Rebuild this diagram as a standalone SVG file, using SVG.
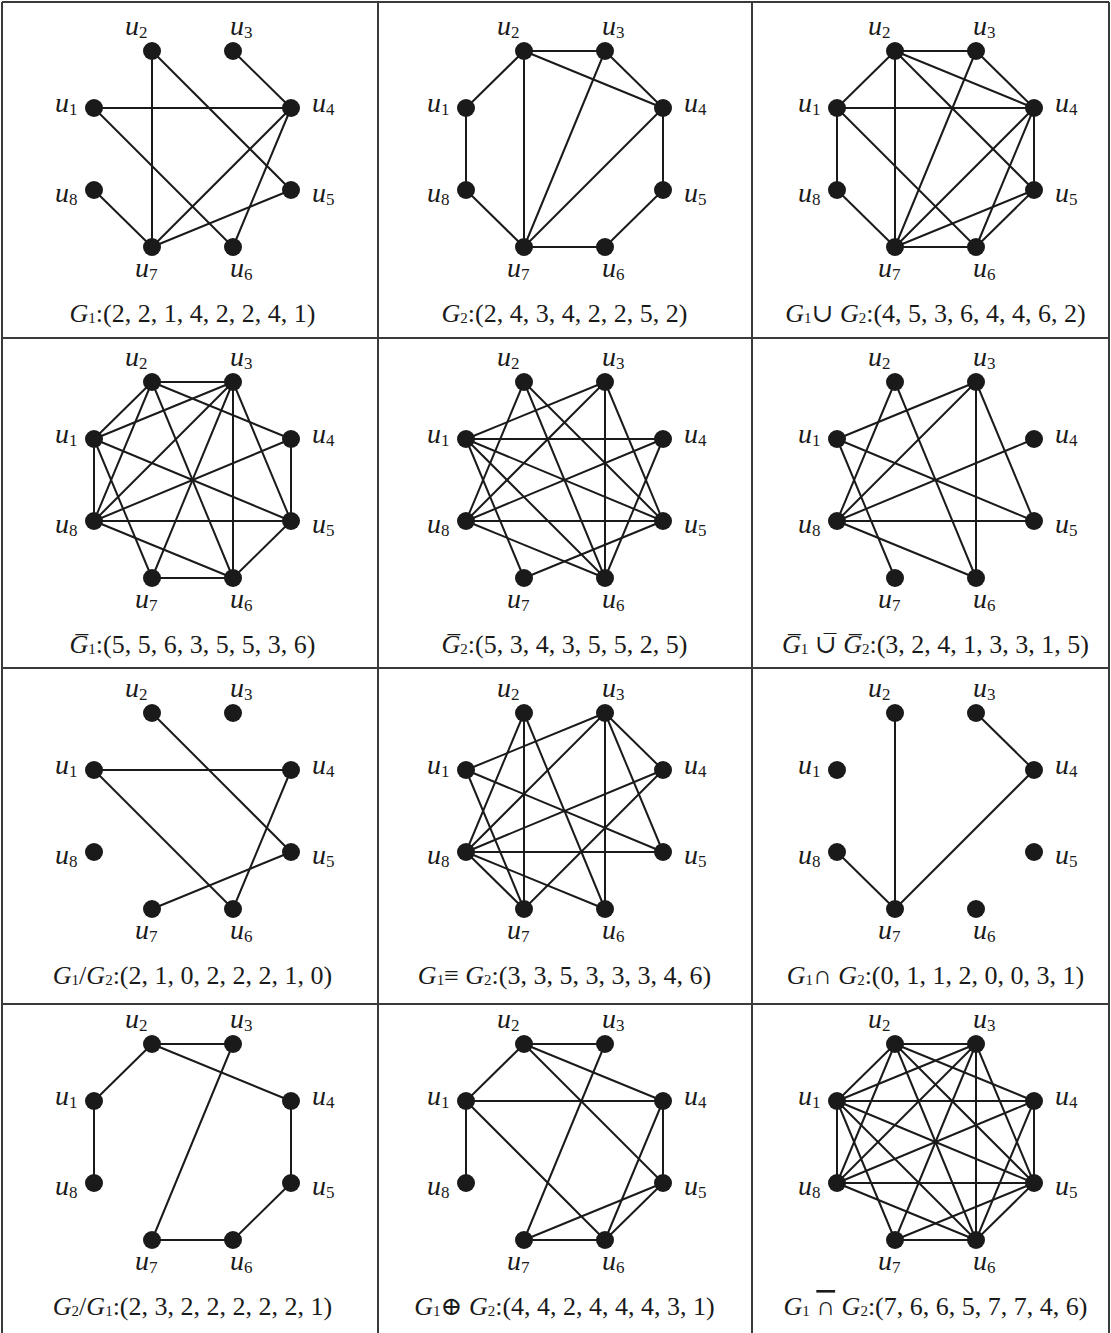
<svg xmlns="http://www.w3.org/2000/svg" width="1111" height="1333" viewBox="0 0 1111 1333">
<style>
.bg{fill:#fff}
.grid line{stroke:#3a3a3a;stroke-width:2}
.edges line{stroke:#1a1a1a;stroke-width:2}
.nd circle{fill:#1a1a1a}
.nd text{font-family:"Liberation Serif","DejaVu Serif",serif;font-size:28px;font-style:italic;fill:#1a1a1a}
.nd tspan{font-style:normal;font-size:17px}
.cap{font-family:"Liberation Serif","DejaVu Serif",serif;font-size:26px;fill:#1a1a1a;text-anchor:middle}
.cap .g{font-style:italic}
.cap .s{font-size:15px}
.cap .ov{text-decoration:overline}
</style>
<rect class="bg" x="0" y="0" width="1111" height="1333"/>
<g id="grid" class="grid">
<line x1="2" y1="2" x2="1109" y2="2"/>
<line x1="2" y1="338" x2="1109" y2="338"/>
<line x1="2" y1="668" x2="1109" y2="668"/>
<line x1="2" y1="1004" x2="1109" y2="1004"/>
<line x1="2" y1="2" x2="2" y2="1333"/>
<line x1="378" y1="2" x2="378" y2="1333"/>
<line x1="752" y1="2" x2="752" y2="1333"/>
<line x1="1109" y1="2" x2="1109" y2="1333"/>
</g>

<!-- Panel 1: G1 -->
<g id="panel1" transform="translate(0,0)">
<g id="p1-edges" class="edges">
<line x1="152" y1="51" x2="152" y2="247"/><line x1="152" y1="51" x2="291" y2="190"/><line x1="233" y1="51" x2="291" y2="108"/><line x1="94" y1="108" x2="291" y2="108"/><line x1="94" y1="108" x2="233" y2="247"/><line x1="291" y1="108" x2="152" y2="247"/><line x1="291" y1="108" x2="233" y2="247"/><line x1="94" y1="190" x2="152" y2="247"/><line x1="152" y1="247" x2="291" y2="190"/>
</g>
<g id="p1-u1" class="nd"><circle cx="94" cy="108" r="9"/><text x="55" y="112">u<tspan dy="3">1</tspan></text></g>
<g id="p1-u2" class="nd"><circle cx="152" cy="51" r="9"/><text x="125" y="35">u<tspan dy="3">2</tspan></text></g>
<g id="p1-u3" class="nd"><circle cx="233" cy="51" r="9"/><text x="230" y="35">u<tspan dy="3">3</tspan></text></g>
<g id="p1-u4" class="nd"><circle cx="291" cy="108" r="9"/><text x="312" y="112">u<tspan dy="3">4</tspan></text></g>
<g id="p1-u5" class="nd"><circle cx="291" cy="190" r="9"/><text x="312" y="202">u<tspan dy="3">5</tspan></text></g>
<g id="p1-u6" class="nd"><circle cx="233" cy="247" r="9"/><text x="230" y="277">u<tspan dy="3">6</tspan></text></g>
<g id="p1-u7" class="nd"><circle cx="152" cy="247" r="9"/><text x="135" y="277">u<tspan dy="3">7</tspan></text></g>
<g id="p1-u8" class="nd"><circle cx="94" cy="190" r="9"/><text x="55" y="202">u<tspan dy="3">8</tspan></text></g>
<text id="p1-cap" class="cap" x="192.5" y="322"><tspan class="g">G</tspan><tspan class="s" dy="1">1</tspan><tspan dy="-1">:(2, 2, 1, 4, 2, 2, 4, 1)</tspan></text>
</g>

<!-- Panel 2: G2 -->
<g id="panel2" transform="translate(372,0)">
<g id="p2-edges" class="edges">
<line x1="94" y1="108" x2="152" y2="51"/><line x1="94" y1="108" x2="94" y2="190"/><line x1="152" y1="51" x2="233" y2="51"/><line x1="152" y1="51" x2="291" y2="108"/><line x1="291" y1="108" x2="291" y2="190"/><line x1="291" y1="190" x2="233" y2="247"/><line x1="233" y1="247" x2="152" y2="247"/><line x1="152" y1="247" x2="233" y2="51"/><line x1="152" y1="51" x2="152" y2="247"/><line x1="233" y1="51" x2="291" y2="108"/><line x1="291" y1="108" x2="152" y2="247"/><line x1="94" y1="190" x2="152" y2="247"/>
</g>
<g id="p2-u1" class="nd"><circle cx="94" cy="108" r="9"/><text x="55" y="112">u<tspan dy="3">1</tspan></text></g>
<g id="p2-u2" class="nd"><circle cx="152" cy="51" r="9"/><text x="125" y="35">u<tspan dy="3">2</tspan></text></g>
<g id="p2-u3" class="nd"><circle cx="233" cy="51" r="9"/><text x="230" y="35">u<tspan dy="3">3</tspan></text></g>
<g id="p2-u4" class="nd"><circle cx="291" cy="108" r="9"/><text x="312" y="112">u<tspan dy="3">4</tspan></text></g>
<g id="p2-u5" class="nd"><circle cx="291" cy="190" r="9"/><text x="312" y="202">u<tspan dy="3">5</tspan></text></g>
<g id="p2-u6" class="nd"><circle cx="233" cy="247" r="9"/><text x="230" y="277">u<tspan dy="3">6</tspan></text></g>
<g id="p2-u7" class="nd"><circle cx="152" cy="247" r="9"/><text x="135" y="277">u<tspan dy="3">7</tspan></text></g>
<g id="p2-u8" class="nd"><circle cx="94" cy="190" r="9"/><text x="55" y="202">u<tspan dy="3">8</tspan></text></g>
<text id="p2-cap" class="cap" x="192.5" y="322"><tspan class="g">G</tspan><tspan class="s" dy="1">2</tspan><tspan dy="-1">:(2, 4, 3, 4, 2, 2, 5, 2)</tspan></text>
</g>

<!-- Panel 3: G1 union G2 -->
<g id="panel3" transform="translate(743,0)">
<g id="p3-edges" class="edges">
<line x1="152" y1="51" x2="152" y2="247"/><line x1="152" y1="51" x2="291" y2="190"/><line x1="233" y1="51" x2="291" y2="108"/><line x1="94" y1="108" x2="291" y2="108"/><line x1="94" y1="108" x2="233" y2="247"/><line x1="291" y1="108" x2="152" y2="247"/><line x1="291" y1="108" x2="233" y2="247"/><line x1="94" y1="190" x2="152" y2="247"/><line x1="152" y1="247" x2="291" y2="190"/>
<line x1="94" y1="108" x2="152" y2="51"/><line x1="94" y1="108" x2="94" y2="190"/><line x1="152" y1="51" x2="233" y2="51"/><line x1="152" y1="51" x2="291" y2="108"/><line x1="291" y1="108" x2="291" y2="190"/><line x1="291" y1="190" x2="233" y2="247"/><line x1="233" y1="247" x2="152" y2="247"/><line x1="152" y1="247" x2="233" y2="51"/>
</g>
<g id="p3-u1" class="nd"><circle cx="94" cy="108" r="9"/><text x="55" y="112">u<tspan dy="3">1</tspan></text></g>
<g id="p3-u2" class="nd"><circle cx="152" cy="51" r="9"/><text x="125" y="35">u<tspan dy="3">2</tspan></text></g>
<g id="p3-u3" class="nd"><circle cx="233" cy="51" r="9"/><text x="230" y="35">u<tspan dy="3">3</tspan></text></g>
<g id="p3-u4" class="nd"><circle cx="291" cy="108" r="9"/><text x="312" y="112">u<tspan dy="3">4</tspan></text></g>
<g id="p3-u5" class="nd"><circle cx="291" cy="190" r="9"/><text x="312" y="202">u<tspan dy="3">5</tspan></text></g>
<g id="p3-u6" class="nd"><circle cx="233" cy="247" r="9"/><text x="230" y="277">u<tspan dy="3">6</tspan></text></g>
<g id="p3-u7" class="nd"><circle cx="152" cy="247" r="9"/><text x="135" y="277">u<tspan dy="3">7</tspan></text></g>
<g id="p3-u8" class="nd"><circle cx="94" cy="190" r="9"/><text x="55" y="202">u<tspan dy="3">8</tspan></text></g>
<text id="p3-cap" class="cap" x="192.5" y="322"><tspan class="g">G</tspan><tspan class="s" dy="1">1</tspan><tspan dy="-1">∪ </tspan><tspan class="g">G</tspan><tspan class="s" dy="1">2</tspan><tspan dy="-1">:(4, 5, 3, 6, 4, 4, 6, 2)</tspan></text>
</g>

<!-- Panel 4: complement G1 -->
<g id="panel4" transform="translate(0,331)">
<g id="p4-edges" class="edges">
<line x1="94" y1="108" x2="152" y2="51"/><line x1="94" y1="108" x2="233" y2="51"/><line x1="94" y1="108" x2="291" y2="190"/><line x1="94" y1="108" x2="152" y2="247"/><line x1="94" y1="108" x2="94" y2="190"/>
<line x1="152" y1="51" x2="233" y2="51"/><line x1="152" y1="51" x2="291" y2="108"/><line x1="152" y1="51" x2="233" y2="247"/><line x1="152" y1="51" x2="94" y2="190"/>
<line x1="233" y1="51" x2="291" y2="190"/><line x1="233" y1="51" x2="233" y2="247"/><line x1="233" y1="51" x2="152" y2="247"/><line x1="233" y1="51" x2="94" y2="190"/>
<line x1="291" y1="108" x2="291" y2="190"/><line x1="291" y1="108" x2="94" y2="190"/>
<line x1="291" y1="190" x2="233" y2="247"/><line x1="291" y1="190" x2="94" y2="190"/>
<line x1="233" y1="247" x2="152" y2="247"/><line x1="233" y1="247" x2="94" y2="190"/>
</g>
<g id="p4-u1" class="nd"><circle cx="94" cy="108" r="9"/><text x="55" y="112">u<tspan dy="3">1</tspan></text></g>
<g id="p4-u2" class="nd"><circle cx="152" cy="51" r="9"/><text x="125" y="35">u<tspan dy="3">2</tspan></text></g>
<g id="p4-u3" class="nd"><circle cx="233" cy="51" r="9"/><text x="230" y="35">u<tspan dy="3">3</tspan></text></g>
<g id="p4-u4" class="nd"><circle cx="291" cy="108" r="9"/><text x="312" y="112">u<tspan dy="3">4</tspan></text></g>
<g id="p4-u5" class="nd"><circle cx="291" cy="190" r="9"/><text x="312" y="202">u<tspan dy="3">5</tspan></text></g>
<g id="p4-u6" class="nd"><circle cx="233" cy="247" r="9"/><text x="230" y="277">u<tspan dy="3">6</tspan></text></g>
<g id="p4-u7" class="nd"><circle cx="152" cy="247" r="9"/><text x="135" y="277">u<tspan dy="3">7</tspan></text></g>
<g id="p4-u8" class="nd"><circle cx="94" cy="190" r="9"/><text x="55" y="202">u<tspan dy="3">8</tspan></text></g>
<text id="p4-cap" class="cap" x="192.5" y="322"><tspan class="g">G̅</tspan><tspan class="s" dy="1">1</tspan><tspan dy="-1">:(5, 5, 6, 3, 5, 5, 3, 6)</tspan></text>
</g>

<!-- Panel 5: complement G2 -->
<g id="panel5" transform="translate(372,331)">
<g id="p5-edges" class="edges">
<line x1="94" y1="108" x2="233" y2="51"/><line x1="94" y1="108" x2="291" y2="108"/><line x1="94" y1="108" x2="291" y2="190"/><line x1="94" y1="108" x2="233" y2="247"/><line x1="94" y1="108" x2="152" y2="247"/>
<line x1="152" y1="51" x2="291" y2="190"/><line x1="152" y1="51" x2="233" y2="247"/><line x1="152" y1="51" x2="94" y2="190"/>
<line x1="233" y1="51" x2="291" y2="190"/><line x1="233" y1="51" x2="233" y2="247"/><line x1="233" y1="51" x2="94" y2="190"/>
<line x1="291" y1="108" x2="233" y2="247"/><line x1="291" y1="108" x2="94" y2="190"/>
<line x1="291" y1="190" x2="152" y2="247"/><line x1="291" y1="190" x2="94" y2="190"/>
<line x1="233" y1="247" x2="94" y2="190"/>
</g>
<g id="p5-u1" class="nd"><circle cx="94" cy="108" r="9"/><text x="55" y="112">u<tspan dy="3">1</tspan></text></g>
<g id="p5-u2" class="nd"><circle cx="152" cy="51" r="9"/><text x="125" y="35">u<tspan dy="3">2</tspan></text></g>
<g id="p5-u3" class="nd"><circle cx="233" cy="51" r="9"/><text x="230" y="35">u<tspan dy="3">3</tspan></text></g>
<g id="p5-u4" class="nd"><circle cx="291" cy="108" r="9"/><text x="312" y="112">u<tspan dy="3">4</tspan></text></g>
<g id="p5-u5" class="nd"><circle cx="291" cy="190" r="9"/><text x="312" y="202">u<tspan dy="3">5</tspan></text></g>
<g id="p5-u6" class="nd"><circle cx="233" cy="247" r="9"/><text x="230" y="277">u<tspan dy="3">6</tspan></text></g>
<g id="p5-u7" class="nd"><circle cx="152" cy="247" r="9"/><text x="135" y="277">u<tspan dy="3">7</tspan></text></g>
<g id="p5-u8" class="nd"><circle cx="94" cy="190" r="9"/><text x="55" y="202">u<tspan dy="3">8</tspan></text></g>
<text id="p5-cap" class="cap" x="192.5" y="322"><tspan class="g">G̅</tspan><tspan class="s" dy="1">2</tspan><tspan dy="-1">:(5, 3, 4, 3, 5, 5, 2, 5)</tspan></text>
</g>

<!-- Panel 6: complement of union -->
<g id="panel6" transform="translate(743,331)">
<g id="p6-edges" class="edges">
<line x1="94" y1="108" x2="233" y2="51"/><line x1="94" y1="108" x2="291" y2="190"/><line x1="94" y1="108" x2="152" y2="247"/>
<line x1="152" y1="51" x2="233" y2="247"/><line x1="152" y1="51" x2="94" y2="190"/>
<line x1="233" y1="51" x2="291" y2="190"/><line x1="233" y1="51" x2="233" y2="247"/><line x1="233" y1="51" x2="94" y2="190"/>
<line x1="291" y1="108" x2="94" y2="190"/>
<line x1="291" y1="190" x2="94" y2="190"/>
<line x1="233" y1="247" x2="94" y2="190"/>
</g>
<g id="p6-u1" class="nd"><circle cx="94" cy="108" r="9"/><text x="55" y="112">u<tspan dy="3">1</tspan></text></g>
<g id="p6-u2" class="nd"><circle cx="152" cy="51" r="9"/><text x="125" y="35">u<tspan dy="3">2</tspan></text></g>
<g id="p6-u3" class="nd"><circle cx="233" cy="51" r="9"/><text x="230" y="35">u<tspan dy="3">3</tspan></text></g>
<g id="p6-u4" class="nd"><circle cx="291" cy="108" r="9"/><text x="312" y="112">u<tspan dy="3">4</tspan></text></g>
<g id="p6-u5" class="nd"><circle cx="291" cy="190" r="9"/><text x="312" y="202">u<tspan dy="3">5</tspan></text></g>
<g id="p6-u6" class="nd"><circle cx="233" cy="247" r="9"/><text x="230" y="277">u<tspan dy="3">6</tspan></text></g>
<g id="p6-u7" class="nd"><circle cx="152" cy="247" r="9"/><text x="135" y="277">u<tspan dy="3">7</tspan></text></g>
<g id="p6-u8" class="nd"><circle cx="94" cy="190" r="9"/><text x="55" y="202">u<tspan dy="3">8</tspan></text></g>
<text id="p6-cap" class="cap" x="192.5" y="322"><tspan class="g">G̅</tspan><tspan class="s" dy="1">1</tspan><tspan dy="-1"> ∪̅ </tspan><tspan class="g">G̅</tspan><tspan class="s" dy="1">2</tspan><tspan dy="-1">:(3, 2, 4, 1, 3, 3, 1, 5)</tspan></text>
</g>

<!-- Panel 7: G1/G2 -->
<g id="panel7" transform="translate(0,662)">
<g id="p7-edges" class="edges">
<line x1="152" y1="51" x2="291" y2="190"/><line x1="94" y1="108" x2="291" y2="108"/><line x1="94" y1="108" x2="233" y2="247"/><line x1="291" y1="108" x2="233" y2="247"/><line x1="152" y1="247" x2="291" y2="190"/>
</g>
<g id="p7-u1" class="nd"><circle cx="94" cy="108" r="9"/><text x="55" y="112">u<tspan dy="3">1</tspan></text></g>
<g id="p7-u2" class="nd"><circle cx="152" cy="51" r="9"/><text x="125" y="35">u<tspan dy="3">2</tspan></text></g>
<g id="p7-u3" class="nd"><circle cx="233" cy="51" r="9"/><text x="230" y="35">u<tspan dy="3">3</tspan></text></g>
<g id="p7-u4" class="nd"><circle cx="291" cy="108" r="9"/><text x="312" y="112">u<tspan dy="3">4</tspan></text></g>
<g id="p7-u5" class="nd"><circle cx="291" cy="190" r="9"/><text x="312" y="202">u<tspan dy="3">5</tspan></text></g>
<g id="p7-u6" class="nd"><circle cx="233" cy="247" r="9"/><text x="230" y="277">u<tspan dy="3">6</tspan></text></g>
<g id="p7-u7" class="nd"><circle cx="152" cy="247" r="9"/><text x="135" y="277">u<tspan dy="3">7</tspan></text></g>
<g id="p7-u8" class="nd"><circle cx="94" cy="190" r="9"/><text x="55" y="202">u<tspan dy="3">8</tspan></text></g>
<text id="p7-cap" class="cap" x="192.5" y="322"><tspan class="g">G</tspan><tspan class="s" dy="1">1</tspan><tspan dy="-1">/</tspan><tspan class="g">G</tspan><tspan class="s" dy="1">2</tspan><tspan dy="-1">:(2, 1, 0, 2, 2, 2, 1, 0)</tspan></text>
</g>

<!-- Panel 8: G1 equiv G2 -->
<g id="panel8" transform="translate(372,662)">
<g id="p8-edges" class="edges">
<line x1="94" y1="108" x2="233" y2="51"/><line x1="94" y1="108" x2="291" y2="190"/><line x1="94" y1="108" x2="152" y2="247"/>
<line x1="152" y1="51" x2="233" y2="247"/><line x1="152" y1="51" x2="152" y2="247"/><line x1="152" y1="51" x2="94" y2="190"/>
<line x1="233" y1="51" x2="291" y2="108"/><line x1="233" y1="51" x2="291" y2="190"/><line x1="233" y1="51" x2="233" y2="247"/><line x1="233" y1="51" x2="94" y2="190"/>
<line x1="291" y1="108" x2="152" y2="247"/><line x1="291" y1="108" x2="94" y2="190"/>
<line x1="291" y1="190" x2="94" y2="190"/>
<line x1="233" y1="247" x2="94" y2="190"/>
<line x1="152" y1="247" x2="94" y2="190"/>
</g>
<g id="p8-u1" class="nd"><circle cx="94" cy="108" r="9"/><text x="55" y="112">u<tspan dy="3">1</tspan></text></g>
<g id="p8-u2" class="nd"><circle cx="152" cy="51" r="9"/><text x="125" y="35">u<tspan dy="3">2</tspan></text></g>
<g id="p8-u3" class="nd"><circle cx="233" cy="51" r="9"/><text x="230" y="35">u<tspan dy="3">3</tspan></text></g>
<g id="p8-u4" class="nd"><circle cx="291" cy="108" r="9"/><text x="312" y="112">u<tspan dy="3">4</tspan></text></g>
<g id="p8-u5" class="nd"><circle cx="291" cy="190" r="9"/><text x="312" y="202">u<tspan dy="3">5</tspan></text></g>
<g id="p8-u6" class="nd"><circle cx="233" cy="247" r="9"/><text x="230" y="277">u<tspan dy="3">6</tspan></text></g>
<g id="p8-u7" class="nd"><circle cx="152" cy="247" r="9"/><text x="135" y="277">u<tspan dy="3">7</tspan></text></g>
<g id="p8-u8" class="nd"><circle cx="94" cy="190" r="9"/><text x="55" y="202">u<tspan dy="3">8</tspan></text></g>
<text id="p8-cap" class="cap" x="192.5" y="322"><tspan class="g">G</tspan><tspan class="s" dy="1">1</tspan><tspan dy="-1">≡ </tspan><tspan class="g">G</tspan><tspan class="s" dy="1">2</tspan><tspan dy="-1">:(3, 3, 5, 3, 3, 3, 4, 6)</tspan></text>
</g>

<!-- Panel 9: G1 intersect G2 -->
<g id="panel9" transform="translate(743,662)">
<g id="p9-edges" class="edges">
<line x1="152" y1="51" x2="152" y2="247"/><line x1="233" y1="51" x2="291" y2="108"/><line x1="291" y1="108" x2="152" y2="247"/><line x1="94" y1="190" x2="152" y2="247"/>
</g>
<g id="p9-u1" class="nd"><circle cx="94" cy="108" r="9"/><text x="55" y="112">u<tspan dy="3">1</tspan></text></g>
<g id="p9-u2" class="nd"><circle cx="152" cy="51" r="9"/><text x="125" y="35">u<tspan dy="3">2</tspan></text></g>
<g id="p9-u3" class="nd"><circle cx="233" cy="51" r="9"/><text x="230" y="35">u<tspan dy="3">3</tspan></text></g>
<g id="p9-u4" class="nd"><circle cx="291" cy="108" r="9"/><text x="312" y="112">u<tspan dy="3">4</tspan></text></g>
<g id="p9-u5" class="nd"><circle cx="291" cy="190" r="9"/><text x="312" y="202">u<tspan dy="3">5</tspan></text></g>
<g id="p9-u6" class="nd"><circle cx="233" cy="247" r="9"/><text x="230" y="277">u<tspan dy="3">6</tspan></text></g>
<g id="p9-u7" class="nd"><circle cx="152" cy="247" r="9"/><text x="135" y="277">u<tspan dy="3">7</tspan></text></g>
<g id="p9-u8" class="nd"><circle cx="94" cy="190" r="9"/><text x="55" y="202">u<tspan dy="3">8</tspan></text></g>
<text id="p9-cap" class="cap" x="192.5" y="322"><tspan class="g">G</tspan><tspan class="s" dy="1">1</tspan><tspan dy="-1">∩ </tspan><tspan class="g">G</tspan><tspan class="s" dy="1">2</tspan><tspan dy="-1">:(0, 1, 1, 2, 0, 0, 3, 1)</tspan></text>
</g>

<!-- Panel 10: G2/G1 -->
<g id="panel10" transform="translate(0,993)">
<g id="p10-edges" class="edges">
<line x1="152" y1="51" x2="233" y2="51"/><line x1="94" y1="108" x2="152" y2="51"/><line x1="94" y1="108" x2="94" y2="190"/><line x1="152" y1="51" x2="291" y2="108"/><line x1="291" y1="108" x2="291" y2="190"/><line x1="291" y1="190" x2="233" y2="247"/><line x1="233" y1="247" x2="152" y2="247"/><line x1="152" y1="247" x2="233" y2="51"/>
</g>
<g id="p10-u1" class="nd"><circle cx="94" cy="108" r="9"/><text x="55" y="112">u<tspan dy="3">1</tspan></text></g>
<g id="p10-u2" class="nd"><circle cx="152" cy="51" r="9"/><text x="125" y="35">u<tspan dy="3">2</tspan></text></g>
<g id="p10-u3" class="nd"><circle cx="233" cy="51" r="9"/><text x="230" y="35">u<tspan dy="3">3</tspan></text></g>
<g id="p10-u4" class="nd"><circle cx="291" cy="108" r="9"/><text x="312" y="112">u<tspan dy="3">4</tspan></text></g>
<g id="p10-u5" class="nd"><circle cx="291" cy="190" r="9"/><text x="312" y="202">u<tspan dy="3">5</tspan></text></g>
<g id="p10-u6" class="nd"><circle cx="233" cy="247" r="9"/><text x="230" y="277">u<tspan dy="3">6</tspan></text></g>
<g id="p10-u7" class="nd"><circle cx="152" cy="247" r="9"/><text x="135" y="277">u<tspan dy="3">7</tspan></text></g>
<g id="p10-u8" class="nd"><circle cx="94" cy="190" r="9"/><text x="55" y="202">u<tspan dy="3">8</tspan></text></g>
<text id="p10-cap" class="cap" x="192.5" y="322"><tspan class="g">G</tspan><tspan class="s" dy="1">2</tspan><tspan dy="-1">/</tspan><tspan class="g">G</tspan><tspan class="s" dy="1">1</tspan><tspan dy="-1">:(2, 3, 2, 2, 2, 2, 2, 1)</tspan></text>
</g>

<!-- Panel 11: G1 xor G2 -->
<g id="panel11" transform="translate(372,993)">
<g id="p11-edges" class="edges">
<line x1="152" y1="51" x2="291" y2="190"/><line x1="94" y1="108" x2="291" y2="108"/><line x1="94" y1="108" x2="233" y2="247"/><line x1="291" y1="108" x2="233" y2="247"/><line x1="152" y1="247" x2="291" y2="190"/>
<line x1="152" y1="51" x2="233" y2="51"/><line x1="94" y1="108" x2="152" y2="51"/><line x1="94" y1="108" x2="94" y2="190"/><line x1="152" y1="51" x2="291" y2="108"/><line x1="291" y1="108" x2="291" y2="190"/><line x1="291" y1="190" x2="233" y2="247"/><line x1="233" y1="247" x2="152" y2="247"/><line x1="152" y1="247" x2="233" y2="51"/>
</g>
<g id="p11-u1" class="nd"><circle cx="94" cy="108" r="9"/><text x="55" y="112">u<tspan dy="3">1</tspan></text></g>
<g id="p11-u2" class="nd"><circle cx="152" cy="51" r="9"/><text x="125" y="35">u<tspan dy="3">2</tspan></text></g>
<g id="p11-u3" class="nd"><circle cx="233" cy="51" r="9"/><text x="230" y="35">u<tspan dy="3">3</tspan></text></g>
<g id="p11-u4" class="nd"><circle cx="291" cy="108" r="9"/><text x="312" y="112">u<tspan dy="3">4</tspan></text></g>
<g id="p11-u5" class="nd"><circle cx="291" cy="190" r="9"/><text x="312" y="202">u<tspan dy="3">5</tspan></text></g>
<g id="p11-u6" class="nd"><circle cx="233" cy="247" r="9"/><text x="230" y="277">u<tspan dy="3">6</tspan></text></g>
<g id="p11-u7" class="nd"><circle cx="152" cy="247" r="9"/><text x="135" y="277">u<tspan dy="3">7</tspan></text></g>
<g id="p11-u8" class="nd"><circle cx="94" cy="190" r="9"/><text x="55" y="202">u<tspan dy="3">8</tspan></text></g>
<text id="p11-cap" class="cap" x="192.5" y="322"><tspan class="g">G</tspan><tspan class="s" dy="1">1</tspan><tspan dy="-1">⊕ </tspan><tspan class="g">G</tspan><tspan class="s" dy="1">2</tspan><tspan dy="-1">:(4, 4, 2, 4, 4, 4, 3, 1)</tspan></text>
</g>

<!-- Panel 12: complement of intersection -->
<g id="panel12" transform="translate(743,993)">
<g id="p12-edges" class="edges">
<line x1="94" y1="108" x2="152" y2="51"/><line x1="94" y1="108" x2="233" y2="51"/><line x1="94" y1="108" x2="291" y2="108"/><line x1="94" y1="108" x2="291" y2="190"/><line x1="94" y1="108" x2="233" y2="247"/><line x1="94" y1="108" x2="152" y2="247"/><line x1="94" y1="108" x2="94" y2="190"/>
<line x1="152" y1="51" x2="233" y2="51"/><line x1="152" y1="51" x2="291" y2="108"/><line x1="152" y1="51" x2="291" y2="190"/><line x1="152" y1="51" x2="233" y2="247"/><line x1="152" y1="51" x2="94" y2="190"/>
<line x1="233" y1="51" x2="291" y2="190"/><line x1="233" y1="51" x2="233" y2="247"/><line x1="233" y1="51" x2="152" y2="247"/><line x1="233" y1="51" x2="94" y2="190"/>
<line x1="291" y1="108" x2="291" y2="190"/><line x1="291" y1="108" x2="233" y2="247"/><line x1="291" y1="108" x2="94" y2="190"/>
<line x1="291" y1="190" x2="233" y2="247"/><line x1="291" y1="190" x2="152" y2="247"/><line x1="291" y1="190" x2="94" y2="190"/>
<line x1="233" y1="247" x2="152" y2="247"/><line x1="233" y1="247" x2="94" y2="190"/>
</g>
<g id="p12-u1" class="nd"><circle cx="94" cy="108" r="9"/><text x="55" y="112">u<tspan dy="3">1</tspan></text></g>
<g id="p12-u2" class="nd"><circle cx="152" cy="51" r="9"/><text x="125" y="35">u<tspan dy="3">2</tspan></text></g>
<g id="p12-u3" class="nd"><circle cx="233" cy="51" r="9"/><text x="230" y="35">u<tspan dy="3">3</tspan></text></g>
<g id="p12-u4" class="nd"><circle cx="291" cy="108" r="9"/><text x="312" y="112">u<tspan dy="3">4</tspan></text></g>
<g id="p12-u5" class="nd"><circle cx="291" cy="190" r="9"/><text x="312" y="202">u<tspan dy="3">5</tspan></text></g>
<g id="p12-u6" class="nd"><circle cx="233" cy="247" r="9"/><text x="230" y="277">u<tspan dy="3">6</tspan></text></g>
<g id="p12-u7" class="nd"><circle cx="152" cy="247" r="9"/><text x="135" y="277">u<tspan dy="3">7</tspan></text></g>
<g id="p12-u8" class="nd"><circle cx="94" cy="190" r="9"/><text x="55" y="202">u<tspan dy="3">8</tspan></text></g>
<text id="p12-cap" class="cap" x="192.5" y="322"><tspan class="g">G</tspan><tspan class="s" dy="1">1</tspan><tspan dy="-1"> </tspan><tspan class="ov">∩</tspan><tspan> </tspan><tspan class="g">G</tspan><tspan class="s" dy="1">2</tspan><tspan dy="-1">:(7, 6, 6, 5, 7, 7, 4, 6)</tspan></text>
</g>
</svg>
